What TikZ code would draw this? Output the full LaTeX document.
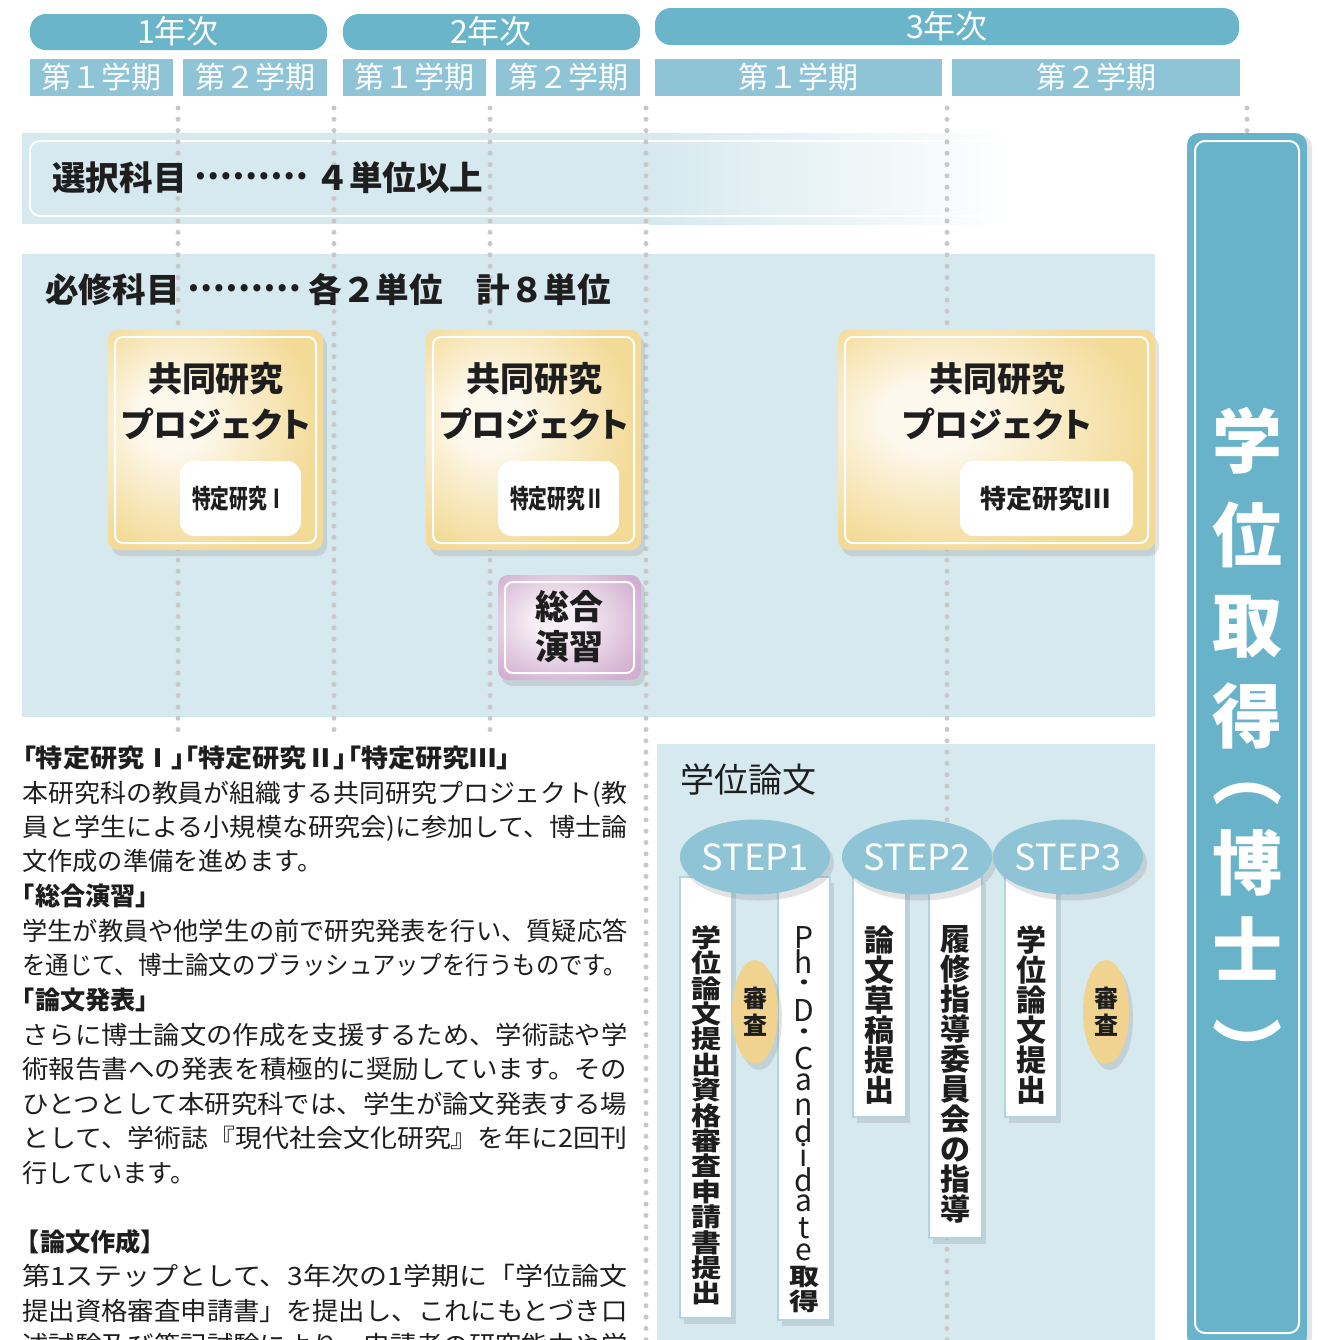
\documentclass[tikz,border=0pt]{standalone}
\usepackage{fontspec}
\usepackage{graphicx}
\setmainfont{Noto Sans CJK JP}
\newfontfamily\jpp{Noto Sans CJK JP}[RawFeature=+palt]
\usetikzlibrary{shadows,shapes.geometric}
\definecolor{hdr}{HTML}{6AB5CA}
\definecolor{sem}{HTML}{8EC4D6}
\definecolor{band}{HTML}{D6E9EF}
\definecolor{gold}{HTML}{F3DA96}
\definecolor{goldc}{HTML}{FDF8EC}
\definecolor{lilac}{HTML}{D2AFD1}
\definecolor{lilacc}{HTML}{F6EEF5}
\definecolor{dotc}{HTML}{C8C8C8}
\definecolor{big}{HTML}{68B3C9}
\definecolor{stepc}{HTML}{8EC4D6}
\definecolor{oval}{HTML}{F0D38F}
\definecolor{stripe}{HTML}{B0D4E0}
\definecolor{ink}{HTML}{1E1E1E}
\pgfdeclareradialshading{goldsh}{\pgfpoint{-12bp}{6bp}}{color(0bp)=(goldc); color(8bp)=(goldc); color(30bp)=(gold); color(60bp)=(gold)}
\pgfdeclareradialshading{lilacsh}{\pgfpoint{-6bp}{4bp}}{color(0bp)=(lilacc); color(8bp)=(lilacc); color(32bp)=(lilac); color(60bp)=(lilac)}
\newcommand{\jl}[1]{\resizebox{302.5pt}{\height}{#1}}
\newcommand{\dotsmid}{\raisebox{0.32em}{………}}
\newcommand{\nolsk}{\lineskiplimit=-40pt\relax}
\newcommand{\sq}[1]{\scalebox{1}[0.8]{#1}}
\newcommand{\vc}[1]{\raisebox{\dimexpr0.36em-0.5\height\relax}{#1}}
\begin{document}
\begin{tikzpicture}[x=0.5pt,y=-0.5pt,
  tx/.style={inner sep=0pt, text height=1.14em, text depth=0.12em},
  hdrtxt/.style={tx, text=white, font=\fontsize{16pt}{16pt}\selectfont},
  semtxt/.style={tx, text=white, font=\fontsize{15pt}{15pt}\selectfont},
  lead/.style={tx, anchor=west, text=ink, font=\bfseries\fontsize{16.8pt}{16.8pt}\selectfont},
  ttl/.style={inner sep=0pt, align=center, text=ink, font=\bfseries\fontsize{17pt}{23pt}\selectfont},
  tk/.style={tx, text=ink, font=\bfseries\fontsize{13pt}{13pt}\selectfont},
  body/.style={tx, anchor=west, text=ink, font=\fontsize{12.6pt}{12.6pt}\selectfont},
  bodyb/.style={body, font=\bfseries\fontsize{12.6pt}{12.6pt}\selectfont},
  dotline/.style={dotc, line width=2.5pt, line cap=round, dash pattern=on 0pt off 5.65pt},
  shd/.style={drop shadow={opacity=0.22, shadow xshift=2pt, shadow yshift=-3pt}},
  strip/.style={fill=white, draw=stripe, line width=0.8pt, shd},
  stepnode/.style={ellipse, fill=stepc, inner sep=0pt, minimum height=37.5pt, text=white, font=\fontsize{18pt}{18pt}\selectfont, shd},
  ovalnode/.style={ellipse, fill=oval, inner sep=0pt, minimum width=23pt, minimum height=52pt, align=center, text=ink, font=\bfseries\fontsize{12pt}{13.5pt}\selectfont, shd},
  vt/.style={inner sep=0pt, align=center, anchor=north, text=ink},
  bigch/.style={tx, text=white, font=\bfseries\fontsize{35pt}{35pt}\selectfont}
]
\useasboundingbox (0,0) rectangle (1318,1340);
\fill[white] (0,0) rectangle (1318,1340);

% year headers
\fill[hdr, rounded corners=8pt] (30,14) rectangle (327,50);
\fill[hdr, rounded corners=8pt] (343,14) rectangle (640,50);
\fill[hdr, rounded corners=8pt] (655,8) rectangle (1239,45);
\node[hdrtxt] (y1) at (178,33) {1年次};
\node[hdrtxt] (y2) at (491,33) {2年次};
\node[hdrtxt] (y3) at (947,28) {3年次};

% semester bars
\fill[sem] (30,59) rectangle (173,96);
\fill[sem] (183,59) rectangle (327,96);
\fill[sem] (343,59) rectangle (486,96);
\fill[sem] (496,59) rectangle (640,96);
\fill[sem] (655,59) rectangle (942,96);
\fill[sem] (952,59) rectangle (1240,96);
\node[semtxt] (s11) at (101,78) {第１学期};
\node[semtxt] (s12) at (255,78) {第２学期};
\node[semtxt] (s21) at (414,78) {第１学期};
\node[semtxt] (s22) at (568,78) {第２学期};
\node[semtxt] (s31) at (798,78) {第１学期};
\node[semtxt] (s32) at (1096,78) {第２学期};

% bands
\fill[band] (22,133) rectangle (650,224);
\shade[left color=band, right color=white] (649,133) rectangle (1015,224);
\draw[white, line width=1pt, rounded corners=5pt] (30,141) rectangle (1015,216);
\fill[band] (22,254) rectangle (1155,717);
\fill[band] (657,744) rectangle (1155,1345);

% dotted guide lines
\draw[dotline] (178,108) -- (178,735);
\draw[dotline] (334,108) -- (334,735);
\draw[dotline] (490,108) -- (490,735);
\draw[dotline] (646,108) -- (646,1345);
\draw[dotline] (947,108) -- (947,1345);
\draw[dotline] (1247,108) -- (1247,140);

% leads
\node[lead] (elec) at (52,180) {選択科目 \dotsmid{} ４単位以上};
\node[lead] (req) at (45,292) {必修科目 \dotsmid{} 各２単位　計８単位};

% gold boxes
\path[shading=goldsh, rounded corners=5pt, shd] (108,330) rectangle (323,550);
\draw[white, line width=1pt, rounded corners=4pt] (115,337) rectangle (316,543);
\path[shading=goldsh, rounded corners=5pt, shd] (426,330) rectangle (641,550);
\draw[white, line width=1pt, rounded corners=4pt] (433,337) rectangle (634,543);
\path[shading=goldsh, rounded corners=5pt, shd] (838,330) rectangle (1155,550);
\draw[white, line width=1pt, rounded corners=4pt] (845,337) rectangle (1148,543);
\node[ttl] (p1) at (216,401) {共同研究\\{\jpp プロジェクト}};
\node[ttl] (p2) at (534,401) {共同研究\\{\jpp プロジェクト}};
\node[ttl] (p3) at (997,401) {共同研究\\{\jpp プロジェクト}};
\fill[white, rounded corners=7pt] (180,461) rectangle (301,536);
\fill[white, rounded corners=7pt] (498,461) rectangle (619,536);
\fill[white, rounded corners=7pt] (960,461) rectangle (1133,536);
\node[tk] (t1) at (239,498) {\scalebox{0.72}[1]{特定研究Ⅰ}};
\node[tk] (t2) at (557,498) {\scalebox{0.72}[1]{特定研究Ⅱ}};
\node[tk] (t3) at (1045,498) {特定研究Ⅲ};

% lilac box
\path[shading=lilacsh, rounded corners=5pt, shd] (498,575) rectangle (641,680);
\draw[white, line width=1pt, rounded corners=4pt] (505,582) rectangle (634,673);
\node[ttl, font=\bfseries\fontsize{17pt}{20pt}\selectfont] (sg) at (569,627) {総合\\演習};

% body text
\node[bodyb] (h1) at (22,757) {\resizebox{244pt}{\height}{\jpp\bfseries 「特定研究Ⅰ」「特定研究Ⅱ」「特定研究Ⅲ」}};
\node[body] (b1) at (22,792) {\jl{本研究科の教員が組織する共同研究プロジェクト(教}};
\node[body] (b2) at (22,826) {\jl{員と学生による小規模な研究会)に参加して、博士論}};
\node[body] (b3) at (22,860) {文作成の準備を進めます。};
\node[bodyb] (h2) at (22,895) {\hspace{-0.5em}「総合演習」};
\node[body] (b4) at (22,930) {\jl{学生が教員や他学生の前で研究発表を行い、質疑応答}};
\node[body] (b5) at (22,964) {\jl{を通じて、博士論文のブラッシュアップを行うものです。}};
\node[bodyb] (h3) at (22,999) {\hspace{-0.5em}「論文発表」};
\node[body] (b6) at (22,1034) {\jl{さらに博士論文の作成を支援するため、学術誌や学}};
\node[body] (b7) at (22,1068) {\jl{術報告書への発表を積極的に奨励しています。その}};
\node[body] (b8) at (22,1103) {\jl{ひとつとして本研究科では、学生が論文発表する場}};
\node[body] (b9) at (22,1137) {\jl{として、学術誌『現代社会文化研究』を年に2回刊}};
\node[body] (b10) at (22,1172) {行しています。};
\node[bodyb] (h4) at (22,1241) {\hspace{-0.3em}【論文作成】};
\node[body] (b11) at (22,1275) {\jl{第1ステップとして、3年次の1学期に「学位論文}};
\node[body] (b12) at (22,1310) {\jl{提出資格審査申請書」を提出し、これにもとづき口}};
\node[body] (b13) at (22,1344) {\jl{述試験及び筆記試験により、申請者の研究能力や学}};

% thesis section
\node[tx, anchor=west, text=ink, font=\fontsize{17pt}{17pt}\selectfont] (gr) at (680,782) {学位論文};
\path[strip] (680,877) rectangle (732,1318);
\path[strip] (778,877) rectangle (830,1320);
\path[strip] (853,877) rectangle (906,1117);
\path[strip] (929,877) rectangle (982,1238);
\path[strip] (1005,877) rectangle (1057,1117);
\node[stepnode, minimum width=75pt] (st1) at (755,857) {STEP1};
\node[stepnode, minimum width=64.5pt] (st2) at (917,857) {STEP2};
\node[stepnode, minimum width=64pt] (st3) at (1068,857) {STEP3};
\begin{scope}[shift={(706,925)}]
\node[vt, yscale=0.847, transform shape, font=\bfseries\fontsize{15pt}{15pt}\selectfont\nolsk] (v1) at (0,0) {学\\位\\論\\文\\提\\出\\資\\格\\審\\査\\申\\請\\書\\提\\出};
\end{scope}
\node[vt, font=\fontsize{15pt}{12.1pt}\selectfont\nolsk] (v2) at (804,926) {\vc{P}\\\vc{h}\\\vc{\sq{・}}\\\vc{D}\\\vc{\sq{・}}\\\vc{C}\\\vc{a}\\\vc{n}\\\vc{d}\\\vc{i}\\\vc{d}\\\vc{a}\\\vc{t}\\\vc{e}\\\vc{\sq{\textbf{取}}}\\\vc{\sq{\textbf{得}}}};
\node[vt, font=\bfseries\fontsize{15pt}{15pt}\selectfont\nolsk] (v3) at (879.5,925) {論\\文\\草\\稿\\提\\出};
\node[vt, font=\bfseries\fontsize{15pt}{15pt}\selectfont\nolsk] (v4) at (955.5,925) {履\\修\\指\\導\\委\\員\\会\\の\\指\\導};
\node[vt, font=\bfseries\fontsize{15pt}{15pt}\selectfont\nolsk] (v5) at (1031,925) {学\\位\\論\\文\\提\\出};
\node[ovalnode] (o1) at (755,1012) {審\\査};
\node[ovalnode] (o2) at (1106,1012) {審\\査};

% degree box
\path[fill=big, rounded corners=6pt, drop shadow={opacity=0.2, shadow xshift=2.5pt, shadow yshift=-1pt}] (1187,133) rectangle (1307,1348);
\draw[white, line width=1pt, rounded corners=5pt] (1195,141) rectangle (1299,1333);
\foreach \ch/\yy/\nm in {学/457/g1, 位/551/g2, 取/641/g3, 得/732/g4, ︵/789/g5, 博/879/g6, 士/966/g7, ︶/1068/g8}{
  \node[bigch] (\nm) at (1247,\yy) {\ch};
}
\end{tikzpicture}
\end{document}
